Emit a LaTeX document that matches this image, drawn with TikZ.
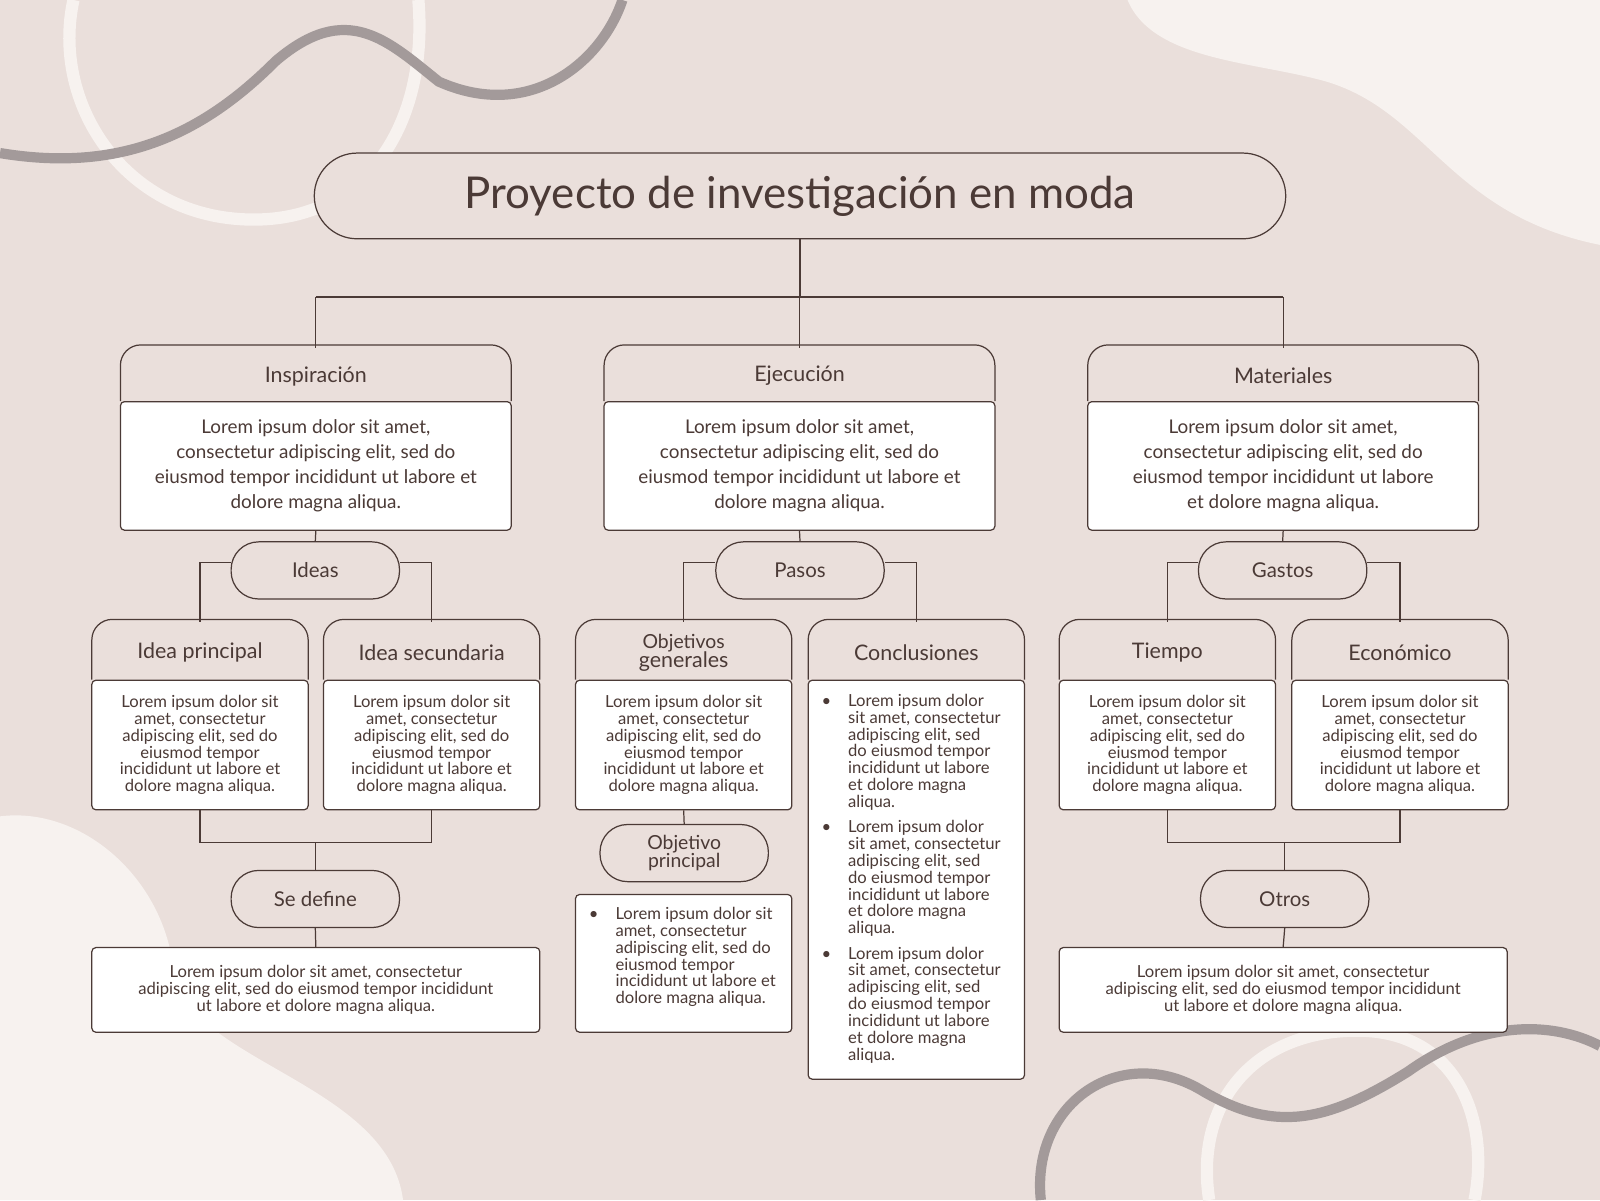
\documentclass[tikz,border=0pt]{standalone}
\usepackage{fontspec}
\setmainfont{Lato}
\definecolor{bg}{HTML}{EADFDB}
\definecolor{lite}{HTML}{F7F2EF}
\definecolor{curve}{HTML}{A39A9A}
\definecolor{ink}{HTML}{4B3A36}
\tikzset{
 ln/.style={draw=ink,line width=1.2pt},
 body/.style={draw=ink,line width=1.2pt,fill=white,rounded corners=4pt,anchor=north,align=center,inner sep=0pt},
 pill/.style={draw=ink,line width=1.2pt,fill=bg,rounded corners=27pt,minimum width=165pt,minimum height=56pt,font=\fontsize{20}{20}\selectfont,text=ink},
 smf/.style={font=\fontsize{16.3}{16.5}\selectfont},
 bigf/.style={font=\fontsize{18.5}{24.5}\selectfont},
}
\newcommand\bitem[2]{\makebox[26pt][l]{\textbullet}\parbox[t]{#1}{\raggedright #2}}
\newcommand\card[9]{%
 \draw[ln,fill=bg] (#2,#5) [rounded corners=20pt]-- (#2,#4) -- (#3,#4) [sharp corners]-- (#3,#5);
 \node[minimum width={(#3-#2)*1pt},minimum height={(#5-#4)*1pt},inner sep=0pt,text=ink,align=center,font=\fontsize{21}{19}\selectfont] (#1h) at ({(#2+#3)/2},{(#4+#5)/2+3}) {#7};
 \node[body,minimum width={(#3-#2)*1pt},minimum height={(#6-#5)*1pt},text=ink,#9] (#1) at ({(#2+#3)/2},#5) {#8};
}
\newcommand\lorembig{Lorem ipsum dolor sit amet,\\consectetur adipiscing elit, sed do\\eiusmod tempor incididunt ut labore et\\dolore magna aliqua.}
\newcommand\loremsm{Lorem ipsum dolor sit\\amet, consectetur\\adipiscing elit, sed do\\eiusmod tempor\\incididunt ut labore et\\dolore magna aliqua.}
\newcommand\loremit{Lorem ipsum dolor sit amet, consectetur adipiscing elit, sed do eiusmod tempor incididunt ut labore et dolore magna aliqua.}
\begin{document}
\begin{tikzpicture}[x=1pt,y=-1pt]
\useasboundingbox (0,0) rectangle (1568,1176);
\fill[bg] (0,0) rectangle (1568,1176);
% light blobs
\fill[lite] (1105,0) .. controls (1130,60) and (1230,60) .. (1300,80) .. controls (1400,110) and (1420,210) .. (1568,240) -- (1568,0) -- cycle;
\fill[lite] (0,800) .. controls (80,790) and (160,860) .. (170,950) .. controls (180,1040) and (380,1060) .. (395,1176) -- (0,1176) -- cycle;
% curves
\draw[lite,line width=12pt] (72,0) .. controls (50,100) and (120,210) .. (240,215) .. controls (360,220) and (420,120) .. (410,0);
\draw[curve,line width=10pt] (0,150) .. controls (120,170) and (200,130) .. (270,60) .. controls (340,0) and (380,40) .. (430,80) .. controls (520,120) and (590,60) .. (610,0);
\draw[lite,line width=12pt] (1185,1176) .. controls (1170,1080) and (1230,1010) .. (1330,1010) .. controls (1430,1010) and (1460,1100) .. (1445,1176);
\draw[curve,line width=10pt] (1020,1176) .. controls (1010,1080) and (1100,1020) .. (1180,1070) .. controls (1250,1110) and (1300,1100) .. (1380,1050) .. controls (1450,1000) and (1520,1000) .. (1568,1025);
% title
\node[draw=ink,line width=1.2pt,fill=bg,rounded corners=42pt,minimum width=952pt,minimum height=84pt,font=\fontsize{43}{43}\selectfont,text=ink] (title) at (784,192) {Proyecto de investigación en moda};
% top cards
\card{ins}{118}{501}{338}{393}{519}{Inspiración}{\lorembig}{bigf}
\card{eje}{592}{975}{338}{393}{519}{Ejecución}{\lorembig}{bigf}
\card{mat}{1066}{1449}{338}{393}{519}{Materiales}{Lorem ipsum dolor sit amet,\\consectetur adipiscing elit, sed do\\eiusmod tempor incididunt ut labore\\et dolore magna aliqua.}{bigf}
\draw[ln] (title.south) -- (784,291);
\draw[ln] (insh.north |- 0,291) -- (math.north |- 0,291);
\foreach \n in {ins,eje,mat} \draw[ln] (\n h.north |- 0,291) -- (\n h.north);
% pills
\node[pill] (ideas) at (309,559) {Ideas};
\node[pill] (pasos) at (784,559) {Pasos};
\node[pill] (gastos) at (1257,559) {Gastos};
% second row
\card{ip}{90}{302}{607}{666}{793}{Idea principal}{\loremsm}{smf}
\card{is}{317}{529}{607}{666}{793}{Idea secundaria}{\loremsm}{smf}
\card{og}{564}{776}{607}{666}{793}{\fontsize{19}{18.5}\selectfont Objetivos\\generales}{\loremsm}{smf}
\card{ti}{1038}{1250}{607}{666}{793}{Tiempo}{\loremsm}{smf}
\card{ec}{1266}{1478}{607}{666}{793}{Económico}{\loremsm}{smf}
\card{co}{792}{1004}{607}{666}{1057}{Conclusiones}{}{smf}
\node[smf,text=ink,anchor=north west,inner sep=0pt,align=left] (cot) at (805,680) {\bitem{150pt}{\loremit}\\[9pt]\bitem{150pt}{\loremit}\\[9pt]\bitem{150pt}{\loremit}};
% connectors pills to cards
\draw[ln] (ins.south) -- (ideas.north);
\draw[ln] (eje.south) -- (pasos.north);
\draw[ln] (mat.south) -- (gastos.north);
\draw[ln] (ideas.west |- 0,551) -| (iph.north);
\draw[ln] (ideas.east |- 0,551) -| (ish.north);
\draw[ln] (pasos.west |- 0,551) -| (ogh.north);
\draw[ln] (pasos.east |- 0,551) -| (coh.north);
\draw[ln] (gastos.west |- 0,551) -| (tih.north);
\draw[ln] (gastos.east |- 0,551) -| (ech.north);
% bottom left
\node[pill] (sd) at (309,881) {Se define};
\node[body,minimum width=439pt,minimum height=83pt,text=ink,smf] (sdb) at (309.5,928) {Lorem ipsum dolor sit amet, consectetur\\adipiscing elit, sed do eiusmod tempor incididunt\\ut labore et dolore magna aliqua.};
\draw[ln] (ip.south) |- (309,826) -| (is.south);
\draw[ln] (309,826) -- (sd.north);
\draw[ln] (sd.south) -- (sdb.north);
% bottom right
\node[pill] (ot) at (1259,881) {Otros};
\node[body,minimum width=439pt,minimum height=83pt,text=ink,smf] (otb) at (1257.5,928) {Lorem ipsum dolor sit amet, consectetur\\adipiscing elit, sed do eiusmod tempor incididunt\\ut labore et dolore magna aliqua.};
\draw[ln] (ti.south) |- (1259,826) -| (ec.south);
\draw[ln] (1259,826) -- (ot.north);
\draw[ln] (ot.south) -- (otb.north);
% middle
\node[pill,font=\fontsize{19}{18.5}\selectfont,align=center] (op) at (670.5,836) {Objetivo\\principal};
\node[body,minimum width=212pt,minimum height=135pt] (opb) at (670,876) {};
\node[smf,text=ink,anchor=north west,inner sep=0pt,align=left] (opt) at (577,889) {\bitem{158pt}{\loremit}};
\draw[ln] (og.south) -- (op.north);
\end{tikzpicture}
\end{document}
